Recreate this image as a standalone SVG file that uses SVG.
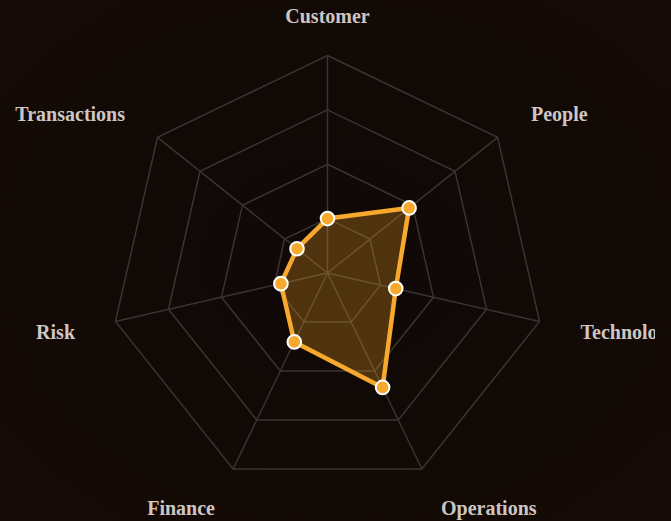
<svg xmlns="http://www.w3.org/2000/svg" width="671" height="521" viewBox="0 0 671 521">
  <defs>
    <radialGradient id="bg" cx="0.5" cy="0.5" r="0.75">
      <stop offset="0" stop-color="#0f0806"/>
      <stop offset="1" stop-color="#150b06"/>
    </radialGradient>
    <clipPath id="plotClip">
      <rect x="0" y="0" width="655" height="521"/>
    </clipPath>
  </defs>
  <style>
    .grid { fill: none; stroke: #3a3330; stroke-width: 1.5; stroke-linejoin: miter; }
    .axis { stroke: #3a3330; stroke-width: 1.5; }
    .series { fill: #f5a623; fill-opacity: 0.28; stroke: #f7a92e; stroke-width: 4.5; stroke-linejoin: round; }
    .dot { fill: #f7a92e; stroke: #ffffff; stroke-width: 2; }
    .label { font-family: "Liberation Serif", "Times New Roman", serif; font-weight: bold; font-size: 20px; fill: #cdc6c2; }
  </style>
  <rect x="0" y="0" width="671" height="521" fill="url(#bg)"/>

  <g id="grid">
    <polygon class="grid" points="327.5,55.5 497.55,137.39 539.55,321.4 421.87,468.96 233.13,468.96 115.45,321.4 157.45,137.39"/>
    <polygon class="grid" points="327.5,109.88 455.04,171.29 486.54,309.3 398.28,419.97 256.72,419.97 168.46,309.3 199.96,171.29"/>
    <polygon class="grid" points="327.5,164.25 412.52,205.2 433.52,297.2 374.68,370.98 280.32,370.98 221.48,297.2 242.48,205.2"/>
    <polygon class="grid" points="327.5,218.63 370.01,239.1 380.51,285.1 351.09,321.99 303.91,321.99 274.49,285.1 284.49,239.1"/>
  </g>

  <g id="connectors">
    <line class="axis" x1="327.5" y1="273" x2="327.5" y2="55.5"/>
    <line class="axis" x1="327.5" y1="273" x2="497.55" y2="137.39"/>
    <line class="axis" x1="327.5" y1="273" x2="539.55" y2="321.4"/>
    <line class="axis" x1="327.5" y1="273" x2="421.87" y2="468.96"/>
    <line class="axis" x1="327.5" y1="273" x2="233.13" y2="468.96"/>
    <line class="axis" x1="327.5" y1="273" x2="115.45" y2="321.4"/>
    <line class="axis" x1="327.5" y1="273" x2="157.45" y2="137.39"/>
  </g>

  <g id="series">
    <polygon class="series" points="327.5,218.6 409.12,207.91 395.75,288.58 382.6,387.42 294.31,341.92 280.9,283.64 297.01,248.68"/>
  </g>

  <g id="points">
    <circle id="pt-customer" class="dot" cx="327.5" cy="218.6" r="6.8"/>
    <circle id="pt-people" class="dot" cx="409.12" cy="207.91" r="6.8"/>
    <circle id="pt-technology" class="dot" cx="395.75" cy="288.58" r="6.8"/>
    <circle id="pt-operations" class="dot" cx="382.6" cy="387.42" r="6.8"/>
    <circle id="pt-finance" class="dot" cx="294.31" cy="341.92" r="6.8"/>
    <circle id="pt-risk" class="dot" cx="280.9" cy="283.64" r="6.8"/>
    <circle id="pt-transactions" class="dot" cx="297.01" cy="248.68" r="6.8"/>
  </g>

  <g id="labels" clip-path="url(#plotClip)">
    <g id="node-customer"><text class="label" x="327.5" y="23" text-anchor="middle">Customer</text></g>
    <g id="node-people"><text class="label" x="531" y="121" text-anchor="start">People</text></g>
    <g id="node-technology"><text class="label" x="580.5" y="339" text-anchor="start">Technology</text></g>
    <g id="node-operations"><text class="label" x="441" y="515" text-anchor="start">Operations</text></g>
    <g id="node-finance"><text class="label" x="215" y="515" text-anchor="end">Finance</text></g>
    <g id="node-risk"><text class="label" x="75" y="339" text-anchor="end">Risk</text></g>
    <g id="node-transactions"><text class="label" x="125" y="121" text-anchor="end">Transactions</text></g>
  </g>
</svg>
